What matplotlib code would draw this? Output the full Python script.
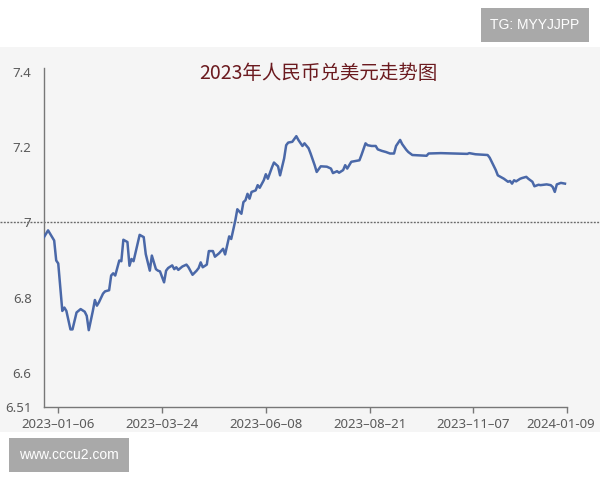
import matplotlib.pyplot as plt
import matplotlib.transforms as mtransforms
from matplotlib.patches import Rectangle

plt.rcParams['font.family'] = ['Noto Sans CJK SC', 'DejaVu Sans']

#### Data (trading-day index, CNY per USD)
days = [0, 2, 5, 6, 7, 9, 10, 11, 13, 14, 16, 18, 20, 21, 22, 24, 25, 26, 27, 29,
        30, 32, 33, 34, 35, 37, 38, 39, 41, 42, 43, 44, 46, 47, 49, 50, 52, 53, 55, 56,
        57, 59, 60, 61, 63, 64, 65, 66, 68, 70, 71, 73, 75, 76, 77, 78, 80, 81, 83, 84,
        86, 88, 89, 91, 92, 94, 95, 97, 98, 99, 100, 101, 102, 104, 105, 106, 108, 109, 110, 112,
        113, 115, 116, 118, 119, 120, 122, 124, 125, 127, 128, 130, 131, 133, 134, 136, 139, 141, 142, 144,
        145, 147, 148, 149, 151, 153, 155, 156, 158, 159, 161, 163, 164, 166, 168, 170, 172, 173, 175, 176,
        178, 179, 181, 188, 189, 195, 208, 209, 212, 218, 219, 222, 223, 225, 226, 228, 229, 230, 231, 232,
        234, 235, 237, 238, 240, 241, 243, 244, 247, 249, 250, 251, 252, 254, 256]
rates = [6.961, 6.979, 6.952, 6.899, 6.891, 6.765, 6.774, 6.765, 6.716, 6.716, 6.761, 6.770, 6.763, 6.752, 6.714, 6.765, 6.794, 6.779, 6.788, 6.811,
         6.817, 6.820, 6.859, 6.865, 6.859, 6.899, 6.897, 6.954, 6.948, 6.885, 6.903, 6.897, 6.943, 6.967, 6.961, 6.916, 6.872, 6.912, 6.876, 6.872,
         6.870, 6.841, 6.872, 6.879, 6.886, 6.876, 6.881, 6.874, 6.883, 6.888, 6.881, 6.861, 6.872, 6.879, 6.894, 6.881, 6.888, 6.924, 6.924, 6.909,
         6.918, 6.930, 6.915, 6.963, 6.956, 7.005, 7.035, 7.023, 7.054, 7.059, 7.076, 7.063, 7.081, 7.085, 7.099, 7.092, 7.112, 7.128, 7.116, 7.146,
         7.159, 7.149, 7.125, 7.170, 7.205, 7.212, 7.214, 7.229, 7.219, 7.203, 7.210, 7.197, 7.183, 7.152, 7.134, 7.149, 7.148, 7.143, 7.131, 7.136,
         7.132, 7.139, 7.152, 7.143, 7.161, 7.163, 7.165, 7.179, 7.210, 7.205, 7.203, 7.203, 7.194, 7.190, 7.187, 7.183, 7.183, 7.203, 7.219, 7.208,
         7.193, 7.187, 7.179, 7.177, 7.183, 7.184, 7.182, 7.184, 7.181, 7.179, 7.172, 7.139, 7.125, 7.119, 7.116, 7.108, 7.110, 7.103, 7.112, 7.109,
         7.116, 7.118, 7.121, 7.116, 7.108, 7.096, 7.100, 7.099, 7.101, 7.099, 7.094, 7.081, 7.101, 7.105, 7.103]

tickDays = [7, 58, 109, 160, 211, 257]
tickLabels = ["2023–01–06", "2023–03–24", "2023–06–08", "2023–08–21", "2023–11–07", "2024-01-09"]
yTicks = [6.51, 6.6, 6.8, 7, 7.2, 7.4]
yLabels = ["6.51", "6.6", "6.8", "7", "7.2", "7.4"]

title = "2023年人民币兑美元走势图"

#### Figure + grey panel
fig = plt.figure(figsize=(6, 4.8), dpi=100, facecolor="white")
fig.patches.append(Rectangle((0, 48 / 480), 1, 385 / 480, transform=fig.transFigure,
                             facecolor="#f5f5f5", edgecolor="none", zorder=-10))

ax = fig.add_axes([44 / 600, 73 / 480, 523 / 600, 339 / 480])
ax.set_facecolor("none")
ax.set_zorder(2)

#### Plotting
ax.plot(days, rates, color="#4a68a8", lw=1.8, solid_joinstyle="round", zorder=3)
ax.axhline(7, xmin=-44 / 523, xmax=556 / 523, clip_on=False, color="#6a6a6a",
           lw=1.0, ls=(0, (1.4, 1.0)), zorder=2)

ax.set_xlim(0, 257)
ax.set_ylim(6.51, 7.41)

ax.set_xticks(tickDays)
ax.set_xticklabels(tickLabels, fontsize=9.5, color="#5a5a5a", family=["Noto Sans", "DejaVu Sans"])
ax.set_yticks(yTicks)
ax.set_yticklabels(yLabels, fontsize=9.5, color="#5a5a5a", family=["Noto Sans", "DejaVu Sans"])
ax.tick_params(axis="x", length=4, width=1, color="#777777", pad=4)
ax.tick_params(axis="y", length=0, pad=9)

# last label shifted left so it stays inside the picture
lastLab = ax.get_xticklabels()[-1]
lastLab.set_transform(lastLab.get_transform() + mtransforms.ScaledTranslation(-6 / 100, 0, fig.dpi_scale_trans))

for side in ["top", "right"]:
    ax.spines[side].set_visible(False)
for side in ["left", "bottom"]:
    ax.spines[side].set_color("#777777")
    ax.spines[side].set_linewidth(1)

#### Title and watermarks
fig.text(318 / 600, 1 - 73.5 / 480, title, ha="center", va="center", fontsize=14,
         fontweight="medium", color="#6b1a1f")

fig.text(535 / 600, 1 - 25 / 480, "TG: MYYJJPP", ha="center", va="center", fontsize=10, color="white",
         family=["Liberation Sans", "DejaVu Sans"],
         bbox=dict(boxstyle="square,pad=0.7", facecolor="#a9a9a9", edgecolor="none"))
fig.text(69 / 600, 1 - 455 / 480, "www.cccu2.com", ha="center", va="center", fontsize=10, color="white",
         family=["Liberation Sans", "DejaVu Sans"],
         bbox=dict(boxstyle="square,pad=0.7", facecolor="#a9a9a9", edgecolor="none"))

plt.savefig("out.png", dpi=100, facecolor="white")
